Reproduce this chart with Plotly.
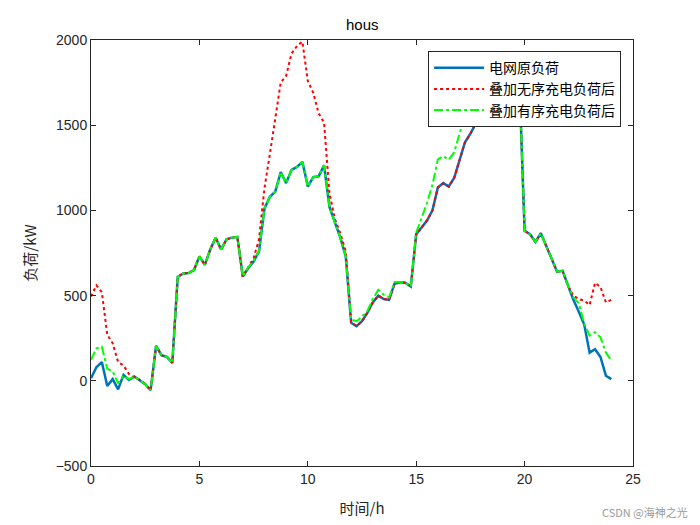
import numpy as np
import plotly.graph_objects as go

# time axis, 15 min steps over the day
hours = np.arange(0, 24.01, 0.25)

# base grid load (kW)
base_load = [
    15, 80, 110, -30, 10, -50, 35, 5,
    25, 5, -20, -55, 205, 150, 140, 105,
    610, 630, 632, 650, 730, 680, 770, 840,
    770, 830, 840, 845, 612, 660, 700, 760,
    1010, 1080, 1110, 1225, 1160, 1238, 1255, 1285,
    1140, 1195, 1200, 1265, 1020, 930, 840, 730,
    340, 320, 350, 400, 460, 500, 480, 475,
    570, 578, 575, 553, 860, 900, 940, 1000,
    1135, 1160, 1140, 1190, 1300, 1400, 1450, 1510,
    1560, 1610, 1660, 1700, 1740, 1770, 1790, 1790,
    880, 860, 815, 866, 790, 725, 640, 645,
    560, 475, 405, 330, 165, 185, 140, 30,
    10,
]

# base + uncontrolled EV charging
disordered_load = [
    495, 560, 520, 270, 220, 110, 90, 40,
    20, 5, -20, -55, 205, 150, 140, 105,
    610, 630, 632, 650, 730, 680, 770, 840,
    770, 830, 840, 845, 612, 665, 720, 830,
    1130, 1330, 1540, 1750, 1790, 1920, 1965, 1990,
    1760, 1690, 1570, 1515, 1100, 950, 865, 760,
    345, 320, 350, 400, 460, 500, 480, 475,
    570, 578, 575, 553, 860, 900, 940, 1000,
    1135, 1160, 1140, 1190, 1300, 1400, 1450, 1510,
    1560, 1610, 1660, 1700, 1740, 1770, 1790, 1790,
    880, 860, 815, 866, 790, 725, 640, 645,
    560, 500, 480, 470, 445, 575, 550, 460,
    475,
]

# base + coordinated EV charging
ordered_load = [
    123, 190, 200, 70, 55, -15, 30, 10,
    25, 5, -20, -55, 205, 150, 140, 105,
    610, 630, 632, 650, 730, 680, 770, 840,
    770, 830, 840, 845, 612, 665, 705, 760,
    1010, 1080, 1110, 1225, 1160, 1238, 1255, 1285,
    1140, 1195, 1200, 1265, 1020, 930, 840, 730,
    360, 350, 377, 410, 480, 534, 505, 490,
    580, 578, 575, 553, 870, 955, 1045, 1150,
    1300, 1318, 1297, 1340, 1450, 1560, 1640, 1700,
    1760, 1800, 1840, 1860, 1880, 1880, 1850, 1790,
    880, 860, 815, 866, 790, 725, 640, 645,
    560, 490, 455, 335, 265, 285, 255, 165,
    120,
]

fig = go.Figure()
fig.add_trace(go.Scatter(x=hours, y=base_load, mode='lines', name='电网原负荷',
                         line=dict(color='#0072BD', width=2.5)))
fig.add_trace(go.Scatter(x=hours, y=disordered_load, mode='lines', name='叠加无序充电负荷后',
                         line=dict(color='#FF0000', width=2, dash='dot')))
fig.add_trace(go.Scatter(x=hours, y=ordered_load, mode='lines', name='叠加有序充电负荷后',
                         line=dict(color='#00FF00', width=2, dash='dashdot')))

axis_style = dict(
    showline=True, linecolor='#262626', linewidth=1, mirror='ticks',
    ticks='inside', ticklen=5, tickcolor='#262626',
    showgrid=False, zeroline=False,
    tickfont=dict(family='Liberation Sans, Arial', size=14, color='#262626'),
)

# page has an 8px body margin, so the figure is sized to fit the window
fig.update_layout(
    width=692, height=517,
    margin=dict(l=83, r=67, t=32, b=59, autoexpand=False),
    plot_bgcolor='white', paper_bgcolor='white',
    title=dict(text='hous', x=0.512, xanchor='center', y=0.967, yanchor='middle',
               font=dict(family='Liberation Sans, Arial', size=15, color='#000000')),
    xaxis=dict(range=[0, 25], tickvals=[0, 5, 10, 15, 20, 25],
               title=dict(text='时间/h', standoff=17,
                          font=dict(family='Noto Sans CJK SC', size=15, color='#262626')),
               **axis_style),
    yaxis=dict(range=[-500, 2000], tickvals=[-500, 0, 500, 1000, 1500, 2000],
               title=dict(text='负荷/kW', standoff=15,
                          font=dict(family='Noto Sans CJK SC', size=15, color='#262626')),
               **axis_style),
    legend=dict(x=0.978, y=0.974, xanchor='right', yanchor='top',
                bgcolor='white', bordercolor='#262626', borderwidth=1,
                font=dict(family='Noto Sans CJK SC', size=14, color='#000000'),
                tracegroupgap=0, itemwidth=50),
    showlegend=True,
)

fig.add_annotation(text='CSDN @海神之光', xref='paper', yref='paper',
                   x=1.105, y=-0.108, xanchor='right', yanchor='middle', showarrow=False,
                   font=dict(family='Noto Sans CJK SC', size=11, color='#9a9a9a'))

fig.write_html("out.html")
